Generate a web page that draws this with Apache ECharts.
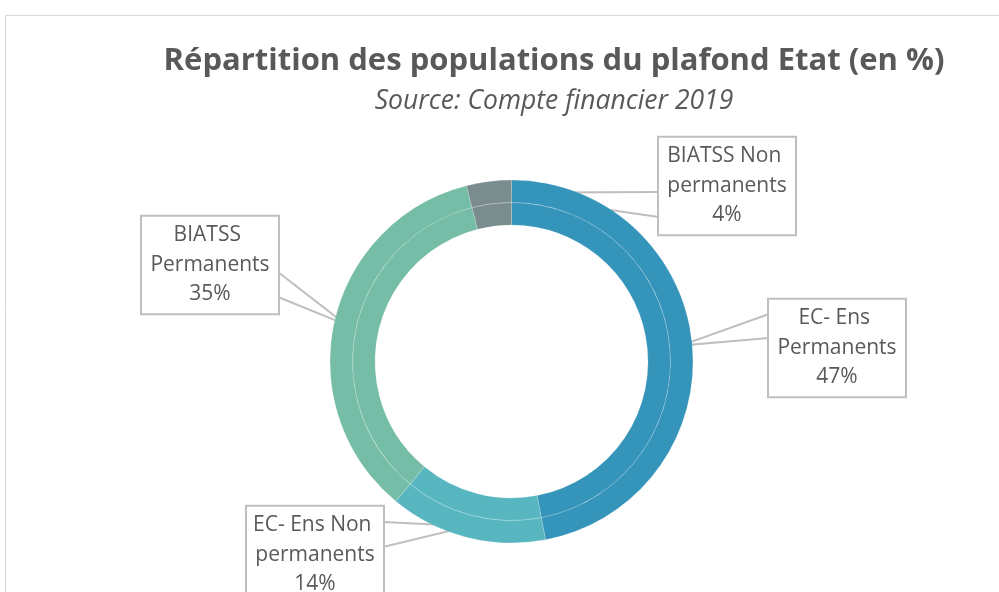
<!DOCTYPE html>
<html lang="fr">
<head>
<meta charset="UTF-8">
<title>Répartition des populations du plafond Etat</title>
<style>
  html, body { margin: 0; padding: 0; background: #fff; }
  #main { width: 999px; height: 592px; }
</style>
</head>
<body>
<div id="main"></div>
<script src="https://cdn.jsdelivr.net/npm/echarts@6/dist/echarts.min.js"></script>
<script>
// données
const categories = ['EC- Ens Permanents', 'EC- Ens Non permanents', 'BIATSS Permanents', 'BIATSS Non permanents'];
const values = [47, 14, 35, 4];
const colors = ['#3494BA', '#58B6C0', '#75BDA7', '#7A8C8E'];

// emplacement des bulles (coin haut-gauche, côté de la pointe, départ de la pointe)
const boxes = [
  { x: 769, y: 298, side: 'left', a: 16, b: 40 },
  { x: 247, y: 505, side: 'right', a: 17, b: 42 },
  { x: 142, y: 215, side: 'right', a: 57, b: 82 },
  { x: 659, y: 136, side: 'left', a: 56, b: 81 }
];
const BOX_W = 136, BOX_H = 96;
const CX = 511.5, CY = 361.5;

const seriesData = categories.map(function (name, i) {
  return { name: name, value: values[i], itemStyle: { color: colors[i] } };
});

const chart = echarts.init(document.getElementById('main'));

chart.setOption({
  animation: false,
  title: [{
    text: 'Répartition des populations du plafond Etat (en %)',
    left: 549, top: 41, textAlign: 'center',
    textStyle: { fontFamily: 'Open Sans', fontWeight: 'bold', fontSize: 31, color: '#595959' }
  }, {
    text: 'Source: Compte financier 2019',
    left: 549, top: 83, textAlign: 'center',
    textStyle: { fontFamily: 'Open Sans', fontStyle: 'italic', fontWeight: 'normal', fontSize: 26.5, color: '#595959' }
  }],
  graphic: [{
    type: 'rect', silent: true,
    shape: { x: 5.5, y: 15.5, width: 1200, height: 800 },
    style: { fill: 'none', stroke: '#d9d9d9', lineWidth: 1 }
  }],
  series: [{
    type: 'pie',
    center: [CX, CY],
    radius: [136.5, 159],
    startAngle: 90,
    clockwise: true,
    silent: true,
    label: { show: false },
    labelLine: { show: false },
    itemStyle: { borderColor: 'rgba(255,255,255,0.3)', borderWidth: 0.6 },
    data: seriesData
  }, {
    type: 'pie',
    center: [CX, CY],
    radius: [159, 181.5],
    startAngle: 90,
    clockwise: true,
    silent: true,
    itemStyle: { borderColor: 'rgba(255,255,255,0.3)', borderWidth: 0.6 },
    label: {
      show: true,
      position: 'outside',
      formatter: '{b}\n{d}%',
      fontFamily: 'Open Sans',
      fontSize: 21,
      lineHeight: 29.5,
      color: '#595959',
      width: 126,
      overflow: 'break',
      align: 'center',
      verticalAlign: 'middle',
      backgroundColor: '#fff',
      borderColor: '#bfbfbf',
      borderWidth: 2,
      padding: [4, 5]
    },
    labelLine: { show: true, lineStyle: { color: '#bfbfbf', width: 2 } },
    labelLayout: function (params) {
      const b = boxes[params.dataIndex];
      const p = params.labelLinePoints[0];
      const dx = p[0] - CX, dy = p[1] - CY;
      const len = Math.sqrt(dx * dx + dy * dy);
      const anchor = [CX + dx / len * 170, CY + dy / len * 170];
      const ex = b.side === 'left' ? b.x : b.x + BOX_W;
      return {
        x: b.x + BOX_W / 2,
        y: b.y + BOX_H / 2 + 2,
        align: 'center',
        verticalAlign: 'middle',
        labelLinePoints: [[ex, b.y + b.a], anchor, [ex, b.y + b.b]]
      };
    },
    data: seriesData
  }]
});
</script>
</body>
</html>
